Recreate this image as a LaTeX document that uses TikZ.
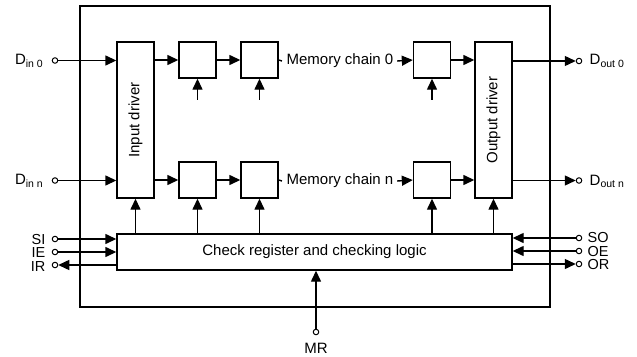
\documentclass[tikz,border=0pt]{standalone}
\usepackage{fontspec}
\setmainfont{Liberation Sans}
\usetikzlibrary{arrows.meta}
\begin{document}
\begin{tikzpicture}[x=1pt,y=-1pt,
  every node/.style={font=\fontsize{15}{17}\selectfont},
  line width=1.4pt,
  >={Triangle[length=11pt,width=10pt]},
  blk/.style={draw,fill=white,minimum width=37pt,minimum height=36pt,inner sep=0pt},
  drv/.style={draw,fill=white,minimum width=37pt,minimum height=156pt,inner sep=0pt},
  port/.style={draw,circle,fill=white,inner sep=0pt,minimum size=5.5pt,line width=1pt},
  lbl/.style={inner sep=0pt},
  sig/.style={inner sep=0pt,font=\fontsize{14.5}{15}\selectfont,text height=10pt,text depth=0pt}]
\useasboundingbox (0,0) rectangle (637,356);
% frame
\draw (80,6) rectangle (550,307);
% drivers
\node[drv] (idrv) at (135.5,120) {\rotatebox{90}{Input driver}};
\node[drv] (odrv) at (493.5,120) {\rotatebox{90}{Output driver}};
% memory blocks
\node[blk] (m01) at (197.5,60) {};
\node[blk] (m02) at (259.5,60) {};
\node[blk] (m03) at (432,60) {};
\node[blk] (m11) at (197.5,180) {};
\node[blk] (m12) at (259.5,180) {};
\node[blk] (m13) at (432,180) {};
% check register
\node[draw,fill=white,minimum width=395pt,minimum height=36pt,inner sep=0pt] (chk) at (314.5,252) {Check register and checking logic};
% chain labels
\node[lbl] (mc0) at (340,61) {Memory chain 0};
\node[lbl] (mcn) at (340,181) {Memory chain n};
% ports left
\node[port] (pin0) at (55,60.5) {};
\node[port] (pinn) at (55,180.5) {};
\node[port] (psi) at (55,239) {};
\node[port] (pie) at (55,252) {};
\node[port] (pir) at (55,265) {};
\node[lbl,anchor=east] (lin0) at (44,61) {D\textsubscript{in 0}};
\node[lbl,anchor=east] (linn) at (44,181) {D\textsubscript{in n}};
\node[sig,anchor=east] (lsi) at (46,239) {SI};
\node[sig,anchor=east] (lie) at (46,252.5) {IE};
\node[sig,anchor=east] (lir) at (46,266) {IR};
% ports right
\node[port] (pout0) at (579,61) {};
\node[port] (poutn) at (579,180.5) {};
\node[port] (pso) at (579,238) {};
\node[port] (poe) at (579,251) {};
\node[port] (por) at (579,264) {};
\node[lbl,anchor=west] (lout0) at (589,61) {D\textsubscript{out 0}};
\node[lbl,anchor=west] (loutn) at (589,181) {D\textsubscript{out n}};
\node[sig,anchor=west] (lso) at (587,237.5) {SO};
\node[sig,anchor=west] (loe) at (587,251) {OE};
\node[sig,anchor=west] (lor) at (587,264.5) {OR};
% MR
\node[port] (pmr) at (316,332) {};
\node[lbl] (lmr) at (316,348) {MR};
% data paths row 0
\draw[->] (pin0) -- (pin0 -| idrv.west);
\draw[->] (idrv.east |- m01) -- (m01.west);
\draw[->] (m01.east) -- (m02.west);
\draw (m02.east) -- ([xshift=-4pt]mc0.west);
\draw[->] ([xshift=3pt]mc0.east) -- (m03.west);
\draw[->] (m03.east) -- (m03.east -| odrv.west);
\draw[->] (odrv.east |- pout0) -- (pout0);
% data paths row n
\draw[->] (pinn) -- (pinn -| idrv.west);
\draw[->] (idrv.east |- m11) -- (m11.west);
\draw[->] (m11.east) -- (m12.west);
\draw (m12.east) -- ([xshift=-4pt]mcn.west);
\draw[->] ([xshift=3pt]mcn.east) -- (m13.west);
\draw[->] (m13.east) -- (m13.east -| odrv.west);
\draw[->] (odrv.east |- poutn) -- (poutn);
% small control arrows under row 0
\draw[->] ([yshift=-21pt]m01.south) -- (m01.south);
\draw[->] ([yshift=-21pt]m02.south) -- (m02.south);
\draw[->] ([yshift=-21pt]m03.south) -- (m03.south);
% control arrows from check register
\draw[->] (chk.north -| idrv) -- (idrv.south);
\draw[->] (chk.north -| m11) -- (m11.south);
\draw[->] (chk.north -| m12) -- (m12.south);
\draw[->] (chk.north -| m13) -- (m13.south);
\draw[->] (chk.north -| odrv) -- (odrv.south);
% check register signals
\draw[->] (psi) -- (psi -| chk.west);
\draw[->] (pie) -- (pie -| chk.west);
\draw[->] (pir -| chk.west) -- (pir);
\draw[->] (pso) -- (pso -| chk.east);
\draw[->] (poe) -- (poe -| chk.east);
\draw[->] (por -| chk.east) -- (por);
\draw[->] (pmr) -- (pmr |- chk.south);
\end{tikzpicture}
\end{document}
